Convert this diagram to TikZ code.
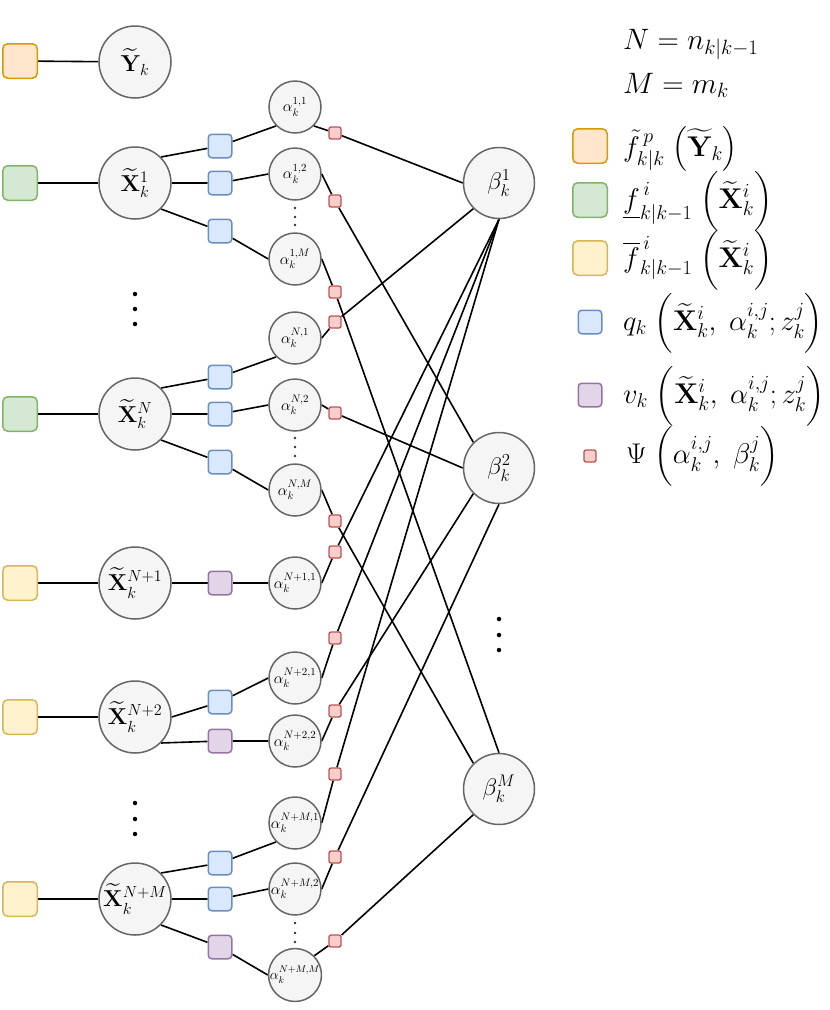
\RequirePackage{fix-cm}
\documentclass[tikz,border=0pt]{standalone}
\usepackage{amsmath}
\usetikzlibrary{backgrounds}
\definecolor{cgray}{HTML}{666666}
\definecolor{cfill}{HTML}{F5F5F5}
\definecolor{orgD}{HTML}{D79B00}\definecolor{orgF}{HTML}{FFE6CC}
\definecolor{grnD}{HTML}{82B366}\definecolor{grnF}{HTML}{D5E8D4}
\definecolor{yelD}{HTML}{D6B656}\definecolor{yelF}{HTML}{FFF2CC}
\definecolor{bluD}{HTML}{6C8EBF}\definecolor{bluF}{HTML}{DAE8FC}
\definecolor{purD}{HTML}{9673A6}\definecolor{purF}{HTML}{E1D5E7}
\definecolor{redD}{HTML}{B85450}\definecolor{redF}{HTML}{F8CECC}
\begin{document}
\begin{tikzpicture}[x=1pt,y=-1pt,
  rv/.style={circle, draw=cgray, fill=cfill, line width=1.5pt, inner sep=0pt},
  xnode/.style={rv, minimum size=72pt, font=\fontsize{23}{27}\selectfont},
  anode/.style={rv, minimum size=52pt, font=\fontsize{15.5}{18}\selectfont},
  bnode/.style={rv, minimum size=71pt, font=\fontsize{24}{28}\selectfont},
  bigsq/.style={rectangle, rounded corners=5pt, minimum size=34.5pt, line width=1.5pt, inner sep=0pt},
  midsq/.style={rectangle, rounded corners=3.5pt, minimum size=23.5pt, line width=1.5pt, inner sep=0pt},
  smallsq/.style={rectangle, rounded corners=2pt, minimum size=12pt, line width=1.3pt, inner sep=0pt},
  osq/.style={bigsq, draw=orgD, fill=orgF},
  gsq/.style={bigsq, draw=grnD, fill=grnF},
  ysq/.style={bigsq, draw=yelD, fill=yelF},
  bsq/.style={midsq, draw=bluD, fill=bluF},
  psq/.style={midsq, draw=purD, fill=purF},
  rsq/.style={smallsq, draw=redD, fill=redF},
  conn/.style={line width=1.6pt, black},
  dot/.style={circle, fill=black, inner sep=0pt, minimum size=4.5pt},
  sdot/.style={circle, fill=black!80, inner sep=0pt, minimum size=2.8pt},
  legtxt/.style={anchor=base west, inner sep=0pt, font=\fontsize{28.5}{33}\selectfont},
  leghead/.style={anchor=base west, inner sep=0pt, font=\fontsize{29.5}{34}\selectfont}
]
\useasboundingbox (0,0) rectangle (830,1010);

% ---------- left factor squares ----------
\node[osq] (fy) at (20,61) {};
\node[gsq] (f1) at (20,183) {};
\node[gsq] (fN) at (20,414) {};
\node[ysq] (fN1) at (20,583) {};
\node[ysq] (fN2) at (20,717) {};
\node[ysq] (fNM) at (20,899) {};

% ---------- X nodes ----------
\node[xnode] (Y) at (135,62) {$\widetilde{\mathbf{Y}}_k$};
\node[xnode] (X1) at (135,183) {$\widetilde{\mathbf{X}}_k^{1}$};
\node[xnode] (XN) at (135,414) {$\widetilde{\mathbf{X}}_k^{N}$};
\node[xnode] (XN1) at (135,583) {$\widetilde{\mathbf{X}}_k^{N+1}$};
\node[xnode] (XN2) at (135,717) {$\widetilde{\mathbf{X}}_k^{N+2}$};
\node[xnode] (XNM) at (135,899) {$\widetilde{\mathbf{X}}_k^{N+M}$};

% ---------- q / v squares ----------
\node[bsq] (q11) at (220,146) {};
\node[bsq] (q12) at (220,183) {};
\node[bsq] (q1M) at (220,231) {};
\node[bsq] (qN1) at (220,377) {};
\node[bsq] (qN2) at (220,414) {};
\node[bsq] (qNM) at (220,462) {};
\node[psq] (vN11) at (220,583) {};
\node[bsq] (qN21) at (220,702) {};
\node[psq] (vN22) at (220,741) {};
\node[bsq] (qNM1) at (220,863) {};
\node[bsq] (qNM2) at (220,899) {};
\node[psq] (vNMM) at (220,947) {};

% ---------- alpha nodes ----------
\node[anode] (a11) at (295,107) {$\alpha_k^{1,1}$};
\node[anode] (a12) at (295,174) {$\alpha_k^{1,2}$};
\node[anode] (a1M) at (295,259) {$\alpha_k^{1,M}$};
\node[anode] (aN1) at (295,338) {$\alpha_k^{N,1}$};
\node[anode] (aN2) at (295,405) {$\alpha_k^{N,2}$};
\node[anode] (aNM) at (295,490) {$\alpha_k^{N,M}$};
\node[anode] (aN11) at (295,583) {$\alpha_k^{N+1,1}$};
\node[anode] (aN21) at (295,678) {$\alpha_k^{N+2,1}$};
\node[anode] (aN22) at (295,741) {$\alpha_k^{N+2,2}$};
\node[anode] (aNM1) at (295,823) {$\alpha_k^{N+M,1}$};
\node[anode] (aNM2) at (295,889) {$\alpha_k^{N+M,2}$};
\node[anode, font=\fontsize{14}{16}\selectfont] (aNMM) at (295,975) {$\alpha_k^{N+M,M}$};

% ---------- Psi squares ----------
\node[rsq] (r11) at (335,133) {};
\node[rsq] (r12) at (335,201) {};
\node[rsq] (r1M) at (335,292) {};
\node[rsq] (rN1) at (335,322) {};
\node[rsq] (rN2) at (335,413) {};
\node[rsq] (rNM) at (335,521) {};
\node[rsq] (rN11) at (335,552) {};
\node[rsq] (rN21) at (335,638) {};
\node[rsq] (rN22) at (335,711) {};
\node[rsq] (rNM1) at (335,774) {};
\node[rsq] (rNM2) at (335,857) {};
\node[rsq] (rNMM) at (335,941) {};

% ---------- beta nodes ----------
\node[bnode] (b1) at (499,183) {$\beta_k^{1}$};
\node[bnode] (b2) at (499,468) {$\beta_k^{2}$};
\node[bnode] (bM) at (499,789) {$\beta_k^{M}$};

% ---------- dots ----------
\foreach \y in {294,309,324,803,819,834} \node[dot] at (135,\y) {};
\foreach \y in {619,635,650} \node[dot] at (499,\y) {};
\foreach \y in {208,217,225,438,447,456,923,933,942} \node[sdot] at (295,\y) {};

% ---------- connectors ----------
\begin{scope}[on background layer]
\draw[conn] (fy) -- (Y);
\draw[conn] (f1) -- (X1);
\draw[conn] (fN) -- (XN);
\draw[conn] (fN1) -- (XN1);
\draw[conn] (fN2) -- (XN2);
\draw[conn] (fNM) -- (XNM);

\draw[conn] (X1.north east) -- (q11) -- (a11.south west);
\draw[conn] (X1.east) -- (q12) -- (a12.west);
\draw[conn] (X1.south east) -- (q1M) -- (a1M.west);
\draw[conn] (XN.north east) -- (qN1) -- (aN1.south west);
\draw[conn] (XN.east) -- (qN2) -- (aN2.west);
\draw[conn] (XN.south east) -- (qNM) -- (aNM.west);
\draw[conn] (XN1.east) -- (vN11) -- (aN11.west);
\draw[conn] (XN2.east) -- (qN21) -- (aN21.west);
\draw[conn] (XN2.south east) -- (vN22) -- (aN22.west);
\draw[conn] (XNM.north east) -- (qNM1) -- (aNM1.south west);
\draw[conn] (XNM.east) -- (qNM2) -- (aNM2.west);
\draw[conn] (XNM.south east) -- (vNMM) -- (aNMM.west);

\draw[conn] (a11.south east) -- (r11) -- (b1.west);
\draw[conn] (a12.east) -- (r12) -- (b2.north west);
\draw[conn] (a1M.east) -- (r1M) -- (bM.north);
\draw[conn] (aN1.east) -- (rN1) -- (b1.south west);
\draw[conn] (aN2.east) -- (rN2) -- (b2.west);
\draw[conn] (aNM.east) -- (rNM) -- (bM.north west);
\draw[conn] (aN11.east) -- (rN11) -- (b1.south);
\draw[conn] (aN21.east) -- (rN21) -- (b1.south);
\draw[conn] (aN22.east) -- (rN22) -- (b2.south west);
\draw[conn] (aNM1.east) -- (rNM1) -- (b1.south);
\draw[conn] (aNM2.east) -- (rNM2) -- (b2.south);
\draw[conn] (aNMM.north east) -- (rNMM) -- (bM.south west);
\end{scope}

% ---------- legend ----------
\node[leghead] (ln) at (623,49) {$N = n_{k|k-1}$};
\node[leghead] (lm) at (623,93) {$M = m_k$};
\node[osq] (lo) at (590,146) {};
\node[gsq] (lg) at (590,200) {};
\node[ysq] (ly) at (590,258) {};
\node[bsq] (lb) at (590,322) {};
\node[psq] (lp) at (590,395) {};
\node[rsq] (lr) at (590,456) {};
\node[legtxt] (to) at (623,156) {$\tilde{f}^{\,p}_{k|k}\;\bigl(\widetilde{\mathbf{Y}}_k\bigr)$};
\node[legtxt] (tg) at (623,208) {$\underline{f}^{\,i}_{k|k-1}\;\Bigl(\widetilde{\mathbf{X}}_k^{i}\Bigr)$};
\node[legtxt] (ty) at (623,267) {$\overline{f}^{\,i}_{k|k-1}\;\Bigl(\widetilde{\mathbf{X}}_k^{i}\Bigr)$};
\node[legtxt] (tb) at (623,330) {$q_k\;\Bigl(\widetilde{\mathbf{X}}_k^{i},\;\alpha_k^{i,j};z_k^{j}\Bigr)$};
\node[legtxt] (tp) at (623,403) {$v_k\;\Bigl(\widetilde{\mathbf{X}}_k^{i},\;\alpha_k^{i,j};z_k^{j}\Bigr)$};
\node[legtxt] (tr) at (626,463) {$\Psi\;\Bigl(\alpha_k^{i,j},\;\beta_k^{j}\Bigr)$};
\end{tikzpicture}
\end{document}
